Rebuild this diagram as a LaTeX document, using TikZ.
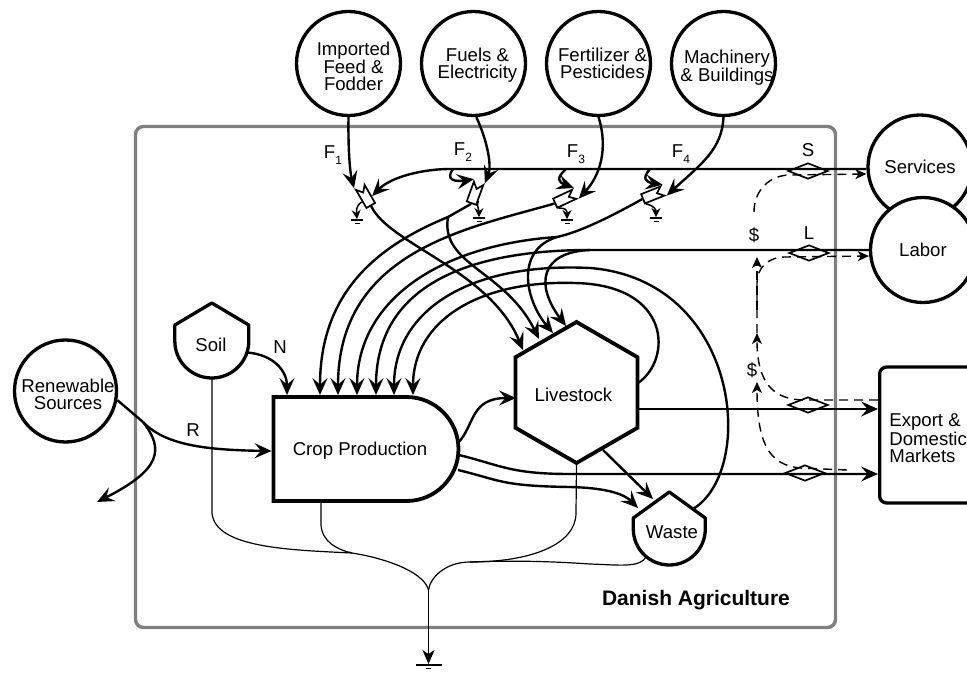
\documentclass[tikz,border=0pt]{standalone}
\usepackage{fontspec}
\setmainfont{Liberation Sans}
\usetikzlibrary{
  arrows.meta,
  shapes.geometric,
  shapes.misc,
  shapes.symbols,
  positioning
}
\definecolor{agBorder}{HTML}{808080}
\newcommand{\flowsub}[1]{\raisebox{-6pt}{\fontsize{12}{12}\selectfont #1}}
\tikzset{
  agtext/.style={font=\fontsize{18.6}{17}\selectfont, align=center, inner sep=0pt},
  source/.style={agtext, draw, circle, line width=3.3pt, fill=white, minimum size=104pt},
  tank/.style={circle, inner sep=0pt, minimum size=74pt},
  tankline/.style={line width=3.3pt, line join=round, fill=white},
  market/.style={agtext, draw, rounded corners=7pt, line width=3.3pt, fill=white, align=left},
  crop/.style={draw, rounded rectangle, rounded rectangle west arc=none, line width=3.8pt, inner sep=0pt,
    minimum width=185pt, minimum height=104pt},
  stock/.style={agtext, draw, regular polygon, regular polygon sides=6, regular polygon rotate=30, line width=3.8pt, minimum size=141pt},
  gate/.style={draw, fill=white, signal, signal to=nowhere, signal from=north, signal pointer angle=80, line width=1.7pt,
    inner sep=0pt, minimum width=10pt, minimum height=15pt},
  deal/.style={draw, diamond, aspect=2.5, line width=1.7pt, inner sep=0pt, minimum width=40pt, minimum height=16pt},
  flowline/.style={-{Stealth[length=17pt,width=15pt,inset=6.5pt]}, line width=2.4pt},
  plainline/.style={line width=2.4pt},
  heatline/.style={line width=1.2pt},
  heatarrow/.style={-{Stealth[length=9pt,width=9pt,inset=3pt]}, line width=1.5pt},
  moneyline/.style={line width=1.4pt, dash pattern=on 9pt off 6pt},
  moneyarrow/.style={moneyline, -{Stealth[length=11pt,width=10pt,inset=3pt]}},
  sink/.style={fill=black, inner sep=0pt, minimum width=12pt, minimum height=1.5pt,
    label={[fill=black, inner sep=0pt, minimum width=5pt, minimum height=1.5pt, label distance=1.6pt]below:{}}},
  tag/.style={agtext}
}

\begin{document}
\begin{tikzpicture}[x=1pt, y=-1pt]
  \useasboundingbox (0,0) rectangle (967,674);
  \node[draw=agBorder, line width=3.4pt, rounded corners=8pt, minimum width=700pt, minimum height=501pt, inner sep=0pt] (farm) at (485.5,377) {};
  \node[agtext, font=\fontsize{21}{21}\selectfont\bfseries] (farmname) at (696,600) {Danish Agriculture};

  % outside sources and sinks
  \node[source, label={[agtext, xshift=5pt, yshift=-3pt]center:Imported\\Feed \&\\Fodder}] (feed) at (348.5,63.5) {};
  \node[source, label={[agtext, xshift=4pt, yshift=-2pt]center:Fuels \&\\Electricity}] (fuel) at (473.5,63.5) {};
  \node[source, label={[agtext, xshift=4pt, yshift=0pt]center:Fertilizer \&\\Pesticides}] (fert) at (598.5,63.5) {};
  \node[source, label={[agtext, xshift=3.5pt, yshift=-4pt]center:Machinery\\\& Buildings}] (mach) at (723.5,63.5) {};
  \node[source] (services) at (920,167) {Services};
  \node[source, minimum size=105pt] (labor) at (923,250) {Labor};
  \node[source, minimum size=102pt, label={[agtext, xshift=2.5pt, yshift=-3.5pt]center:Renewable\\Sources}] (renew) at (65.5,391) {};
  \node[market, minimum width=97pt, minimum height=136pt, anchor=west, label={[agtext, align=left, yshift=-3pt]center:Export \&\\Domestic\\Markets}] (export) at (878,435) {};

  % inside the system
  \node[crop, label={[agtext, xshift=-6pt, yshift=-2pt]center:Crop Production}] (crop) at (366,449) {};
  \node[stock, label={[agtext, xshift=-3pt, yshift=-2pt]center:Livestock}] (stock) at (576.5,392.5) {};
  \node[tank] (soil) at (212,341) {};
  \draw[tankline] (soil.west) arc[start angle=180, end angle=0, radius=37] -- ++(0,-16) -- ++(-37,-22) -- ++(-37,22) -- cycle;
  \node[agtext] (soilname) at (211,345) {Soil};
  \node[tank, minimum size=72pt] (waste) at (669.5,529) {};
  \draw[tankline] (waste.west) arc[start angle=180, end angle=0, radius=36] -- ++(0,-11) -- ++(-36,-26) -- ++(-36,26) -- cycle;
  \node[agtext] (wastename) at (672,532) {Waste};

  % work gates
  \node[gate, rotate=30] (gatea) at (367,199) {};
  \node[gate, rotate=-20] (gateb) at (474,196) {};
  \node[gate, rotate=-65] (gatec) at (562,200) {};
  \node[gate, rotate=-68] (gated) at (650,196) {};
  \node[sink] (sinka) at (357,220) {};
  \node[sink] (sinkb) at (479,218) {};
  \node[sink] (sinkc) at (567,220) {};
  \node[sink] (sinkd) at (656,218) {};
  \node[sink, minimum width=26pt] (sinkmain) at (428.5,665) {};

  % price gates
  \node[deal] (dealS) at (808,171) {};
  \node[deal] (dealL) at (809,253) {};
  \node[deal] (dealA) at (808,405) {};
  \node[deal] (dealB) at (805,473) {};

  % fuels and goods into the gates
  \draw[flowline] (feed.south) .. controls (348,150) and (350,172) .. (gatea.north west);
  \draw[flowline] (fuel.-87) .. controls (487,140) and (492,165) .. (gateb.north east);
  \draw[flowline] (fert.south) .. controls (606,140) and (605,170) .. (gatec.north east);
  \draw[flowline] (mach.south) .. controls (722,150) and (700,165) .. (gated.north east);
  \coordinate (svcbend) at (450,169);
  \draw[flowline] (services.west |- 0,169) -- (svcbend) .. controls (425,169) and (392,176) .. (gatea.east);
  \draw[flowline] (453,169) .. controls (445,180) and (455,182) .. (gateb.north west);
  \draw[flowline] (566,169) .. controls (556,178) and (558,182) .. (gatec.north west);
  \draw[flowline] (650,169) .. controls (642,178) and (645,182) .. (gated.north west);

  % leaks at the gates
  \draw[heatarrow] (gatea.west) .. controls (358,204) and (356,208) .. (sinka.north);
  \draw[heatarrow] (gateb.-30) .. controls (476,205) and (479,208) .. (sinkb.north);
  \draw[heatarrow] (gatec.south east) .. controls (566,208) and (567,210) .. (sinkc.north);
  \draw[heatarrow] (gated.south east) .. controls (655,206) and (656,210) .. (sinkd.north);

  % gates to crop and livestock
  \coordinate (gateboff) at (448,217);
  \coordinate (gatedoff) at (557,237);
  \coordinate (laborbend) at (590,250);
  \coordinate (wasteout) at (693,509);
  \draw[flowline] (gatea.south) .. controls (390,245) and (490,270) .. (523,350);
  \draw[plainline] (gateb.south) -- (gateboff);
  \draw[flowline] (gateboff) .. controls (380,245) and (320,290) .. (320,0 |- crop.north);
  \draw[flowline] (gateboff) .. controls (440,265) and (505,270) .. (539,339);
  \draw[flowline] (gatec.south) .. controls (470,228) and (338,250) .. (338,0 |- crop.north);
  \draw[plainline] (gated.south) .. controls (610,217) and (580,232) .. (gatedoff);
  \draw[flowline] (gatedoff) .. controls (440,245) and (357,300) .. (357,0 |- crop.north);
  \draw[flowline] (gatedoff) .. controls (515,250) and (525,300) .. (553,333);
  \draw[flowline] (labor.west) -- (laborbend) .. controls (460,250) and (376,290) .. (376,0 |- crop.north);
  \draw[flowline] (laborbend) .. controls (540,252) and (535,285) .. (566,326);
  \draw[flowline] (wasteout) .. controls (757,470) and (740,280) .. (590,268) .. controls (470,262) and (394,310) .. (394,0 |- crop.north);
  \draw[flowline] (638,383) .. controls (672,360) and (672,285) .. (575,283) .. controls (480,280) and (413,320) .. (413,0 |- crop.north);

  % main flows
  \coordinate (renewfork) at (143,422);
  \draw[plainline] (renew.-10) -- (renewfork);
  \draw[flowline] (renewfork) .. controls (165,445) and (205,450) .. (crop.west |- 0,451);
  \draw[flowline] (renewfork) .. controls (165,450) and (160,470) .. (97,502);
  \draw[flowline] (soil.-18) .. controls (275,355) and (287,372) .. (287,0 |- crop.north);
  \draw[flowline] (458,443) .. controls (475,425) and (470,398) .. (516,398);
  \draw[flowline] (638,409) -- (export.west |- 0,409);
  \draw[flowline] (459,455) .. controls (500,465) and (510,474) .. (570,474) -- (export.west |- 0,474);
  \draw[flowline] (458,470) .. controls (500,480) and (500,486) .. (570,487) .. controls (610,488) and (625,495) .. (638,508);
  \draw[flowline] (603,450) -- (653,499);

  % heat
  \coordinate (heatleft) at (352,553);
  \coordinate (heatright) at (470,562);
  \coordinate (heatjoin) at (428.5,590);
  \draw[heatline] (212,378) -- (212,513) .. controls (215,548) and (290,550) .. (heatleft);
  \draw[heatline] (321,0 |- crop.south) -- (321,525) .. controls (322,542) and (338,550) .. (heatleft) .. controls (395,560) and (425,575) .. (heatjoin);
  \draw[heatline] (stock.south) -- (576,513) .. controls (576,545) and (530,562) .. (heatright) .. controls (445,562) and (430,578) .. (heatjoin);
  \draw[heatline] (waste.-130) .. controls (640,568) and (620,565) .. (590,564) .. controls (560,562) and (520,560) .. (heatright);
  \draw[heatline, -{Stealth[length=14pt,width=12pt,inset=4pt]}] (heatjoin) -- (sinkmain.north);

  % money
  \draw[moneyarrow] (754,212) .. controls (754,190) and (770,175) .. (790,175) -- (services.west |- 0,174);
  \draw[moneyarrow] (757,333) -- (757,283) .. controls (757,268) and (768,257) .. (785,257) -- (labor.west |- 0,256);
  \draw[moneyarrow] (export.west |- 0,400) -- (805,400) .. controls (775,400) and (757,385) .. (757,333);
  \draw[moneyarrow] (847,470) -- (800,468) .. controls (770,465) and (757,445) .. (757,382);
  \draw[moneyarrow] (757,310) -- (757,257);

  % labels
  \node[tag] (labelFa) at (333,155) {F\flowsub{1}};
  \node[tag] (labelFb) at (463,152) {F\flowsub{2}};
  \node[tag] (labelFc) at (576,154) {F\flowsub{3}};
  \node[tag] (labelFd) at (681,154) {F\flowsub{4}};
  \node[tag] (labelN) at (280,347) {N};
  \node[tag] (labelR) at (193,430) {R};
  \node[tag] (labelS) at (808,150) {S};
  \node[tag] (labelL) at (809,233) {L};
  \node[tag] (labelDa) at (754,235) {\$};
  \node[tag] (labelDb) at (752,370) {\$};
\end{tikzpicture}
\end{document}
